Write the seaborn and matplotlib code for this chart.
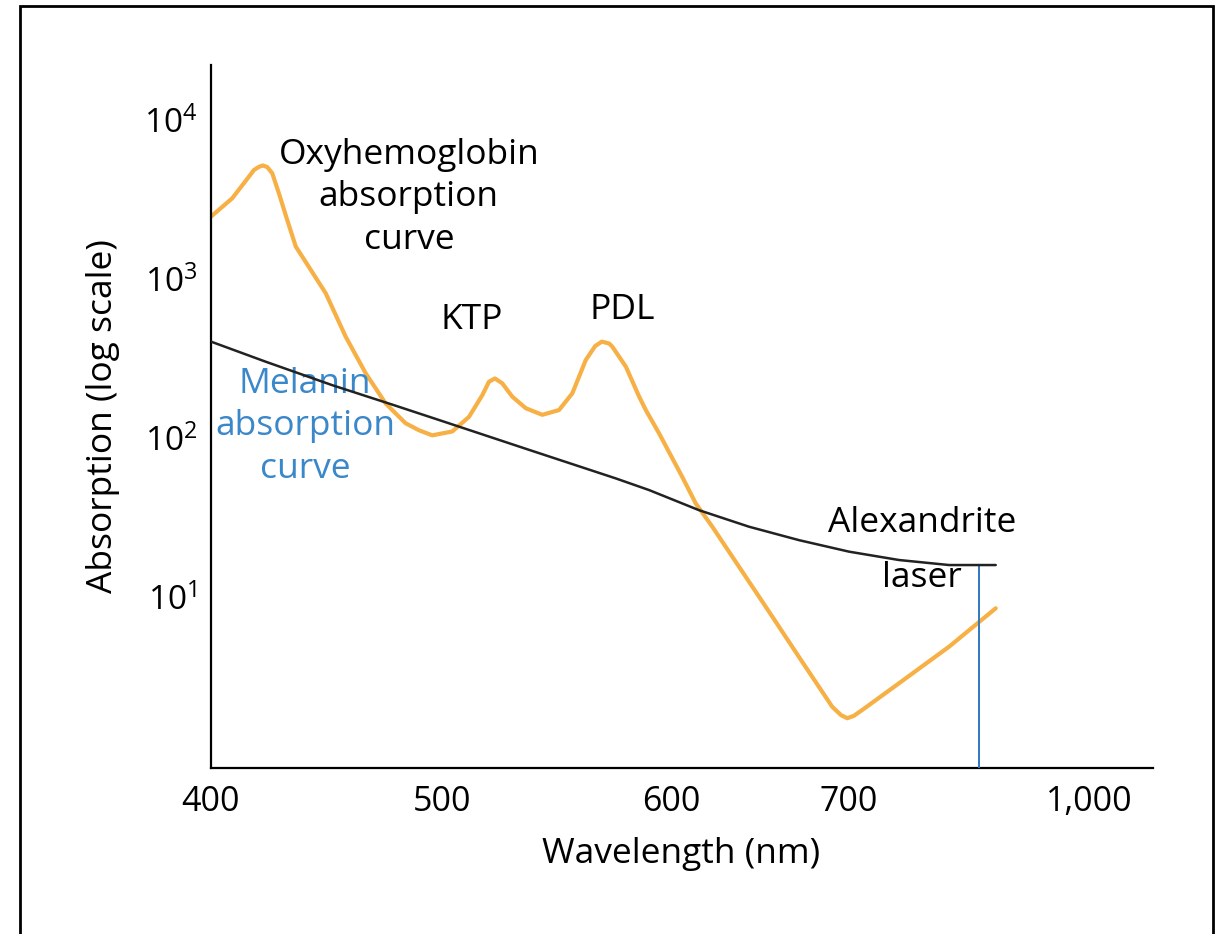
import matplotlib
matplotlib.use("Agg")
import matplotlib.pyplot as plt
import matplotlib.ticker as mticker
from matplotlib.patches import Rectangle
import numpy as np
import pandas as pd
import seaborn as sns

# Oxyhemoglobin absorption curve (wavelength nm, absorption)
oxy_nm = [400, 409.2, 416.4, 418.6, 420.8, 422.5, 424.4, 426.5, 429.4, 433, 436.7,
          442.4, 449.7, 458.3, 467, 475.6, 484.2, 490, 495.8, 504.5, 511.8,
          517.6, 520.5, 523.1, 526.3, 530.7, 536.6, 543.8, 551.1, 556.9, 562.8,
          566.9, 569.8, 573, 574.4, 580.3, 586.1, 589, 594.8, 606.3, 613.9,
          623.2, 634.5, 653.2, 671.9, 690.6, 695.5, 699, 706, 716.6, 762.5,
          825, 883.4]
oxy_abs = [2470, 3220, 4400, 4850, 5080, 5180, 5050, 4630, 3460, 2350, 1600,
           1190, 812, 434, 255, 165, 124, 112, 104, 110, 136,
           186, 226, 237, 221, 182, 154, 140, 150, 191, 310,
           379, 404, 393, 375, 281, 182, 150, 107, 57, 38.8,
           27.7, 17.9, 8.7, 4.2, 2.04, 1.81, 1.73, 1.79, 1.95, 2.87,
           4.87, 8.5]

# Melanin absorption curve
mel_nm = [400, 423.7, 452.5, 479.2, 500, 538, 575.8, 590.4, 615.7, 643.8,
          671.9, 700, 762.5, 825, 883.4]
mel_abs = [404, 302, 215, 161, 128, 84.3, 55.8, 47.1, 35.2, 27.7,
           22.8, 19.3, 17.1, 15.9, 15.9]

# Alexandrite laser marker
laser_nm = 862.5

# axis ticks (axis is not linear in the original figure)
x_ticks = [400, 500, 600, 700, 1000]
x_tick_labels = ["400", "500", "600", "700", "1,000"]
y_ticks = [10, 100, 1000, 10000]

# piecewise wavelength axis
scale_nm = [300, 400, 500, 600, 700, 1000, 1200]
scale_pos = [-231, 0, 231, 460, 638, 878, 1038]


def fwd(x):
    return np.interp(x, scale_nm, scale_pos)


def inv(p):
    return np.interp(p, scale_pos, scale_nm)


sns.set_theme(style="white")
plt.rcParams["font.family"] = ["Open Sans", "DejaVu Sans"]
plt.rcParams["mathtext.fontset"] = "custom"
plt.rcParams["mathtext.rm"] = "Open Sans"
plt.rcParams["mathtext.it"] = "Open Sans:italic"
plt.rcParams["mathtext.bf"] = "Open Sans:bold"
plt.rcParams["mathtext.default"] = "regular"

orange = "#F7B045"
blue = "#3A87C9"

df_oxy = pd.DataFrame({"nm": oxy_nm, "abs": oxy_abs})
df_mel = pd.DataFrame({"nm": mel_nm, "abs": mel_abs})

fig = plt.figure(figsize=(12.25, 9.34), dpi=100)
ax = fig.add_axes([211 / 1225, 1 - 768 / 934, 942 / 1225, 703 / 934])

ax.set_xscale("function", functions=(fwd, inv))
ax.set_yscale("log")

sns.lineplot(data=df_oxy, x="nm", y="abs", ax=ax, color=orange, lw=3,
             sort=False, solid_joinstyle="round", solid_capstyle="round")
sns.lineplot(data=df_mel, x="nm", y="abs", ax=ax, color="#222222", lw=1.8,
             sort=False, zorder=4, solid_joinstyle="round")

# laser line up to the melanin curve
laser_top = 10 ** np.interp(laser_nm, mel_nm, np.log10(mel_abs))
ax.vlines(laser_nm, 0.5, laser_top, color="#2E78BE", lw=1.4, zorder=3)

ax.set_xlim(400, 1080)
ax.set_ylim(10 ** -0.075, 10 ** 4.346)

ax.set_xticks(x_ticks)
ax.set_xticklabels(x_tick_labels)
ax.set_yticks(y_ticks)
ax.yaxis.set_major_formatter(mticker.LogFormatterMathtext())
ax.yaxis.set_minor_formatter(mticker.NullFormatter())
ax.tick_params(axis="both", which="both", length=0, colors="black")
ax.tick_params(axis="x", pad=12, labelsize=24.5)
ax.tick_params(axis="y", pad=10, labelsize=24)

ax.set_xlabel("Wavelength (nm)", fontsize=25.5, color="black")
ax.set_ylabel("Absorption (log scale)", fontsize=25.5, color="black")
ax.xaxis.set_label_coords(0.499, -0.098)
ax.yaxis.set_label_coords(-0.097, 0.50)

sns.despine(ax=ax)
for s in ["left", "bottom"]:
    ax.spines[s].set_linewidth(1.6)
    ax.spines[s].set_color("black")

tk = dict(transform=ax.transAxes, ha="center", va="center", fontsize=25.5)
ax.text(0.210, 0.8120, "Oxyhemoglobin\nabsorption\ncurve", linespacing=1.33,
        color="black", **tk)
ax.text(0.277, 0.637, "KTP", color="black", **tk)
ax.text(0.437, 0.651, "PDL", color="black", **tk)
ax.text(0.0998, 0.486, "Melanin\nabsorption\ncurve", linespacing=1.33,
        color=blue, **tk)
ax.text(0.755, 0.3485, "Alexandrite", color="black", **tk)
ax.text(0.755, 0.270, "laser", color="black", **tk)

# outer frame of the figure
fig.add_artist(Rectangle((20 / 1225, -0.1), 1193 / 1225, 1.1 - 6 / 934,
                         transform=fig.transFigure, fill=False,
                         ec="black", lw=2))

fig.savefig("out.png", dpi=100)
